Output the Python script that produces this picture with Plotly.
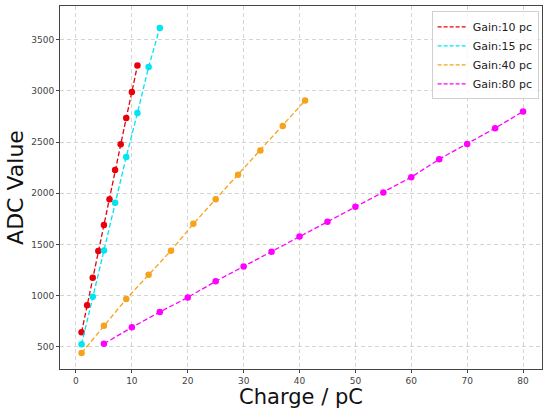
import plotly.graph_objects as go

# Data
x_g10 = [1, 2, 3, 4, 5, 6, 7, 8, 9, 10, 11]
y_g10 = [640, 905, 1175, 1435, 1690, 1940, 2228, 2479, 2736, 2990, 3248]

x_g15 = [1, 3, 5, 7, 9, 11, 13, 15]
y_g15 = [523, 988, 1441, 1906, 2355, 2785, 3234, 3615]

x_g40 = [1, 5, 9, 13, 17, 21, 25, 29, 33, 37, 41]
y_g40 = [438, 705, 966, 1203, 1438, 1701, 1942, 2180, 2418, 2658, 2906]

x_g80 = [5, 10, 15, 20, 25, 30, 35, 40, 45, 50, 55, 60, 65, 70, 75, 80]
y_g80 = [529, 689, 839, 982, 1139, 1285, 1428, 1578, 1721, 1867, 2008, 2157, 2333, 2482, 2636, 2799]

series = [
    ("Gain:10 pc", x_g10, y_g10, "#e8000b"),
    ("Gain:15 pc", x_g15, y_g15, "#00e5f0"),
    ("Gain:40 pc", x_g40, y_g40, "#f5a31a"),
    ("Gain:80 pc", x_g80, y_g80, "#ff00ff"),
]

x_ticks = [0, 10, 20, 30, 40, 50, 60, 70, 80]
y_ticks = [500, 1000, 1500, 2000, 2500, 3000, 3500]

DASH = "5px,2.5px"
fig = go.Figure()
for name, xs, ys, col in series:
    fig.add_trace(go.Scatter(
        x=xs, y=ys, name=name, mode="lines+markers", showlegend=False,
        line=dict(color=col, width=1.3, dash=DASH),
        marker=dict(color=col, size=6.5),
    ))
# legend entries show only the dashed line, as in the reference
for name, xs, ys, col in series:
    fig.add_trace(go.Scatter(
        x=[None], y=[None], name=name, mode="lines",
        line=dict(color=col, width=1.3, dash="4px,2px"),
    ))

FONT = "DejaVu Sans"
fig.update_layout(
    width=543, height=409,
    margin=dict(l=60, r=1, t=6, b=40),
    paper_bgcolor="white", plot_bgcolor="white",
    font=dict(family=FONT, size=9, color="#444444"),
    legend=dict(
        x=0.993, y=0.985, xanchor="right", yanchor="top",
        bgcolor="rgba(255,255,255,0.8)", bordercolor="#d0d0d0", borderwidth=1,
        font=dict(family=FONT, size=11, color="#222222"),
        itemwidth=30, tracegroupgap=0,
    ),
    showlegend=True,
)
fig.update_xaxes(
    range=[-2.857, 83.39], tickvals=x_ticks,
    showline=True, linecolor="#444444", linewidth=1, mirror=True,
    ticks="outside", ticklen=3, tickcolor="#444444",
    showgrid=True, gridcolor="#d4d4d4", griddash="4px,3px", gridwidth=1,
    zeroline=False,
    title=dict(text="Charge / pC", font=dict(family=FONT, size=21, color="#111111"), standoff=6),
)
fig.update_yaxes(
    range=[282, 3830], tickvals=y_ticks,
    showline=True, linecolor="#444444", linewidth=1, mirror=True,
    ticks="outside", ticklen=3, tickcolor="#444444",
    showgrid=True, gridcolor="#d4d4d4", griddash="4px,3px", gridwidth=1,
    zeroline=False,
    title=dict(text="ADC Value", font=dict(family=FONT, size=22, color="#111111"), standoff=1),
)

fig.write_html("out.html")
